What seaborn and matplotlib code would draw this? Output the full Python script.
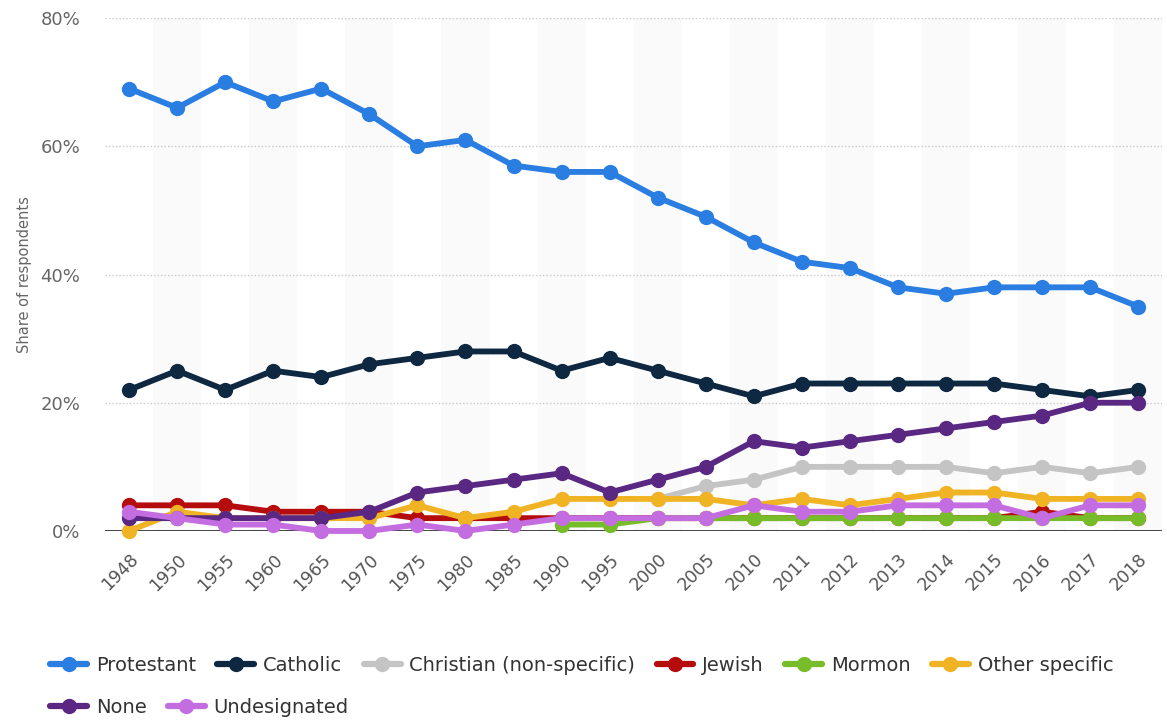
import pandas as pd
import numpy as np
import matplotlib
matplotlib.use("Agg")
import matplotlib.pyplot as plt
from matplotlib.lines import Line2D
import seaborn as sns

years = ["1948", "1950", "1955", "1960", "1965", "1970", "1975", "1980", "1985", "1990", "1995",
         "2000", "2005", "2010", "2011", "2012", "2013", "2014", "2015", "2016", "2017", "2018"]
nan = np.nan
protestant = [69, 66, 70, 67, 69, 65, 60, 61, 57, 56, 56, 52, 49, 45, 42, 41, 38, 37, 38, 38, 38, 35]
catholic = [22, 25, 22, 25, 24, 26, 27, 28, 28, 25, 27, 25, 23, 21, 23, 23, 23, 23, 23, 22, 21, 22]
christian = [nan, nan, nan, nan, nan, nan, nan, nan, nan, nan, nan, 5, 7, 8, 10, 10, 10, 10, 9, 10, 9, 10]
jewish = [4, 4, 4, 3, 3, 3, 2, 2, 2, 2, 2, 2, 2, 2, 2, 2, 2, 2, 2, 3, 2, 2]
mormon = [nan, nan, nan, nan, nan, nan, nan, nan, nan, 1, 1, 2, 2, 2, 2, 2, 2, 2, 2, 2, 2, 2]
other = [0, 3, 2, 2, 2, 2, 4, 2, 3, 5, 5, 5, 5, 4, 5, 4, 5, 6, 6, 5, 5, 5]
none = [2, 2, 2, 2, 2, 3, 6, 7, 8, 9, 6, 8, 10, 14, 13, 14, 15, 16, 17, 18, 20, 20]
undesignated = [3, 2, 1, 1, 0, 0, 1, 0, 1, 2, 2, 2, 2, 4, 3, 3, 4, 4, 4, 2, 4, 4]

series = {
    "Protestant": protestant,
    "Catholic": catholic,
    "Christian (non-specific)": christian,
    "Jewish": jewish,
    "Mormon": mormon,
    "Other specific": other,
    "None": none,
    "Undesignated": undesignated,
}
colors = {
    "Protestant": "#2a7de1",
    "Catholic": "#0e2841",
    "Christian (non-specific)": "#c4c4c4",
    "Jewish": "#b50d0d",
    "Mormon": "#77bd2a",
    "Other specific": "#f0b323",
    "None": "#5a2882",
    "Undesignated": "#c46de0",
}

rows = []
for name, vals in series.items():
    for y, v in zip(years, vals):
        rows.append({"year": y, "share": v, "religion": name})
df = pd.DataFrame(rows)
df["year"] = pd.Categorical(df["year"], categories=years, ordered=True)

sns.set_theme(style="white")
plt.rcParams["font.family"] = ["DejaVu Sans"]

fig = plt.figure(figsize=(11.67, 7.23), dpi=100)
ax = fig.add_axes([0.09, 0.2656, 0.906, 0.7094])

# alternating column bands
for i in range(1, len(years), 2):
    ax.axvspan(i - 0.5, i + 0.5, color="#fafafa", zorder=0, lw=0)

for y in [20, 40, 60, 80]:
    ax.axhline(y, color="#c8c8c8", linestyle=(0, (1, 1.5)), lw=1, zorder=1)
ax.axhline(0, color="#222222", lw=1.2, zorder=1)

for name in series:
    sub = df[df["religion"] == name].dropna()
    x = sub["year"].cat.codes.to_numpy()
    sns.lineplot(x=x, y=sub["share"].to_numpy(), ax=ax, color=colors[name], lw=4.2,
                 marker="o", markersize=11, markeredgewidth=0, clip_on=False, zorder=3,
                 legend=False)

ax.set_xlim(-0.5, len(years) - 0.5)
ax.set_ylim(0, 80)
ax.set_xticks(range(len(years)))
ax.set_xticklabels(years, rotation=45, ha="right", rotation_mode="anchor", color="#555555", fontsize=12.5)
ax.set_yticks([0, 20, 40, 60, 80])
ax.set_yticklabels(["0%", "20%", "40%", "60%", "80%"], color="#666666", fontsize=13)
ax.tick_params(axis="y", length=0, pad=18)
ax.tick_params(axis="x", length=0, pad=14)
ax.set_xlabel("")
ax.set_ylabel("Share of respondents", color="#666666", fontsize=10.5, labelpad=6)
for s in ax.spines.values():
    s.set_visible(False)

def handle(c):
    return Line2D([0], [0], color=c, lw=4.5, marker="o", markersize=11, markeredgewidth=0)

names = list(series.keys())
row1 = names[:6]
row2 = names[6:]
leg1 = fig.legend([handle(colors[n]) for n in row1], row1, ncol=6, loc="center left",
                  bbox_to_anchor=(0.028, 0.08), frameon=False, fontsize=14, handlelength=1.9,
                  handletextpad=0.45, columnspacing=1.1)
for t in leg1.get_texts():
    t.set_color("#333333")
leg2 = fig.legend([handle(colors[n]) for n in row2], row2, ncol=2, loc="center left",
                  bbox_to_anchor=(0.028, 0.022), frameon=False, fontsize=14, handlelength=1.9,
                  handletextpad=0.45, columnspacing=1.1)
for t in leg2.get_texts():
    t.set_color("#333333")

fig.savefig("out.png", dpi=100)
